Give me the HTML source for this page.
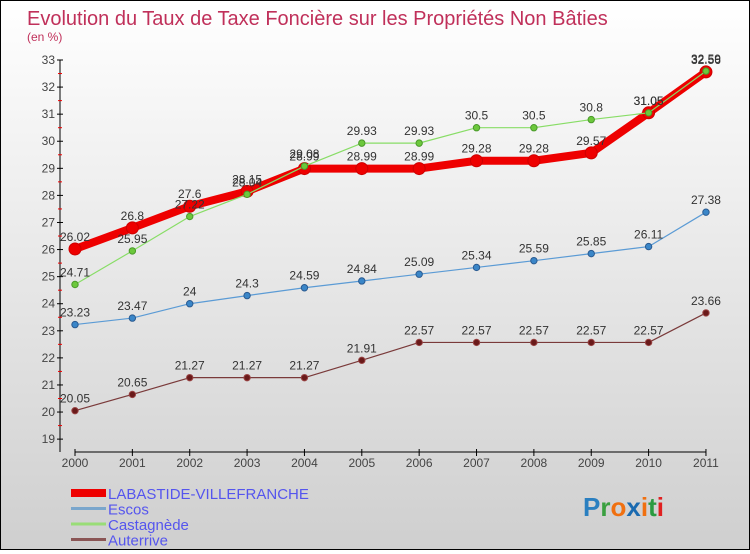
<!DOCTYPE html>
<html><head><meta charset="utf-8"><style>
body{margin:0;width:750px;height:550px;overflow:hidden;font-family:"Liberation Sans",sans-serif}
#wrap{position:relative;width:748px;height:548px;border:1px solid #000;background:linear-gradient(#fff,#cfcfcf)}
</style></head><body>
<div id="wrap">
<svg id="chart" width="748" height="548" font-family="Liberation Sans, sans-serif"></svg>
</div>
<script>
const years=["2000","2001","2002","2003","2004","2005","2006","2007","2008","2009","2010","2011"];
const labastide=[26.02,26.8,27.6,28.15,28.99,28.99,28.99,29.28,29.28,29.57,31.05,32.56];
const escos=[23.23,23.47,24,24.3,24.59,24.84,25.09,25.34,25.59,25.85,26.11,27.38];
const castagnede=[24.71,25.95,27.22,28.04,29.08,29.93,29.93,30.5,30.5,30.8,31.05,32.59];
const auterrive=[20.05,20.65,21.27,21.27,21.27,21.91,22.57,22.57,22.57,22.57,22.57,23.66];
const yTicks=[19,20,21,22,23,24,25,26,27,28,29,30,31,32,33];
const NS="http://www.w3.org/2000/svg";
const svg=document.getElementById('chart');
function X(i){return 74+i*57.36;}
function Y(v){return 59+(33-v)*27.08;}
function mk(t,a,p){const e=document.createElementNS(NS,t);for(const k in a)e.setAttribute(k,a[k]);(p||svg).appendChild(e);return e;}
let t=mk('text',{x:26,y:24,'font-size':20,fill:'#c0305a'});t.textContent="Evolution du Taux de Taxe Foncière sur les Propriétés Non Bâties";

t=mk('text',{x:26,y:40,'font-size':12,fill:'#c0305a'});t.textContent="(en %)";

let ax=mk('g',{});

mk('line',{x1:59,y1:Y(33),x2:59,y2:451,stroke:'#000'},ax);
yTicks.forEach(v=>{mk('line',{x1:56,x2:62,y1:Y(v),y2:Y(v),stroke:'#000'},ax);
 if(v<33)mk('line',{x1:57,x2:61,y1:Y(v+0.5),y2:Y(v+0.5),stroke:'#e00'},ax);
 const l=mk('text',{x:54,y:Y(v)+4,'font-size':12,fill:'#444','text-anchor':'end'},ax);l.textContent=v;
 });
let xa=mk('g',{});

mk('line',{x1:74,y1:451,x2:X(11),y2:451,stroke:'#000'},xa);
years.forEach((y,i)=>{mk('line',{x1:X(i),x2:X(i),y1:448,y2:455,stroke:'#000'},xa);
 const l=mk('text',{x:X(i),y:466,'font-size':12,fill:'#444','text-anchor':'middle'},xa);l.textContent=y;
 });
function series(name,data,color,w,r,fill,stroke){
 const g=mk('g',{});
 
 mk('polyline',{points:data.map((v,i)=>X(i)+','+Y(v)).join(' '),fill:'none',stroke:color,'stroke-width':w,'stroke-linejoin':'round'},g);
 data.forEach((v,i)=>{const c=mk('circle',{cx:X(i),cy:Y(v),r:r,fill:fill,stroke:stroke,'stroke-width':1},g);
  
  const l=mk('text',{x:X(i),y:Y(v)-8,'font-size':12,fill:'#333','text-anchor':'middle'},g);l.textContent=v;
  });
}
series('auterrive-series',auterrive,'#7a3a3a',1.2,3.2,'#6a1a1a','#944');
series('escos-series',escos,'#5b9bd5',1.2,3.2,'#3a86c8','#2a5a90');
series('labastide-series',labastide,'#ee0000',8,6,'#ee0000','#c00');
series('castagnede-series',castagnede,'#88dd66',1.2,3.2,'#6cc83c','#4a9a2a');
const leg=[["LABASTIDE-VILLEFRANCHE","#ee0000",8],["Escos","#7aa6cc",3],["Castagnède","#99dd77",3],["Auterrive","#8a5555",3]];
leg.forEach((d,i)=>{const g=mk('g',{});
 
 const y=492+i*15.5;
 mk('line',{x1:70,x2:105,y1:y,y2:y,stroke:d[1],'stroke-width':d[2]},g);
 const l=mk('text',{x:107,y:y+6,'font-size':15,fill:'#5555ee'},g);l.textContent=d[0];});
const lg=mk('text',{x:582,y:515,'font-size':26,'font-weight':'bold'});

[["P","#2a7fc0"],["r","#3aa040"],["o","#f07010"],["x","#1a6ab0"],["i","#f07010"],["t","#2a9a40"],["i","#e02020"]].forEach(c=>{const s=mk('tspan',{fill:c[1]},lg);s.textContent=c[0];});
</script>
</body></html>
